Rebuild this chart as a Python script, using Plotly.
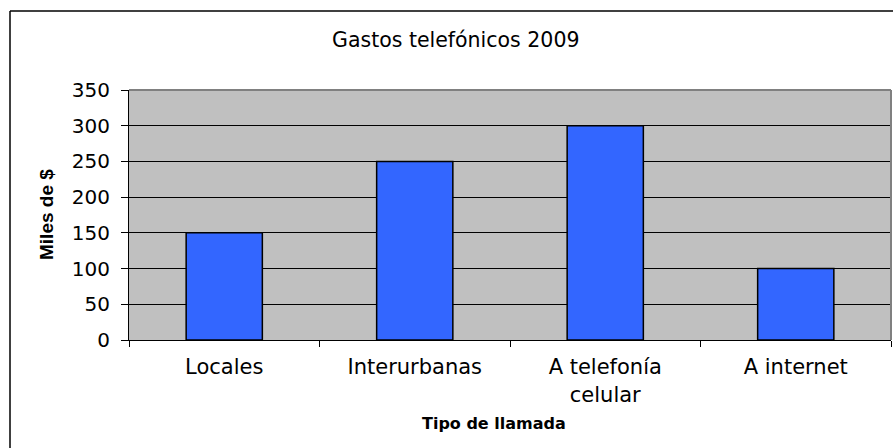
import plotly.graph_objects as go

categories = ["Locales", "Interurbanas", "A telefonía<br>celular", "A internet"]
values = [150, 250, 300, 100]
y_ticks = [0, 50, 100, 150, 200, 250, 300, 350]

W_FIG, H_FIG = 893, 448
# plot area in window pixels
L, R, T, B = 129, 891, 90, 340
PW, PH = R - L, B - T


def px(x):
    return (x - L) / PW


def py(y):
    return (B - y) / PH


FONT = "DejaVu Sans"

fig = go.Figure(
    go.Bar(
        x=categories,
        y=values,
        width=0.4,
        marker=dict(color="#3366FF", line=dict(color="#000000", width=1.5)),
    )
)

fig.update_layout(
    width=W_FIG,
    height=H_FIG,
    margin=dict(l=L, r=W_FIG - R, t=T, b=H_FIG - B, pad=0),
    paper_bgcolor="white",
    plot_bgcolor="#C0C0C0",
    showlegend=False,
    font=dict(family=FONT, size=20, color="black"),
)

fig.update_xaxes(
    showgrid=False,
    showline=True,
    linecolor="black",
    linewidth=1,
    ticks="outside",
    tickson="boundaries",
    ticklen=6,
    tickcolor="black",
    tickfont=dict(family=FONT, size=21),
    ticklabelstandoff=8,
    zeroline=False,
)

fig.update_yaxes(
    range=[0, 350],
    tickvals=y_ticks,
    showgrid=True,
    gridcolor="black",
    gridwidth=1,
    showline=True,
    linecolor="black",
    linewidth=1,
    ticks="outside",
    ticklen=7,
    tickcolor="black",
    tickfont=dict(family=FONT, size=20),
    ticklabelstandoff=7,
    zeroline=False,
)

# plot-area border (top/right gray)
fig.add_shape(type="line", xref="paper", yref="paper", x0=0, x1=1, y0=1, y1=1,
              line=dict(color="#808080", width=2))
fig.add_shape(type="line", xref="paper", yref="paper", x0=1, x1=1, y0=0, y1=1,
              line=dict(color="#808080", width=2))

# outer chart border (left and top visible)
fig.add_shape(type="line", xref="paper", yref="paper", x0=px(10), x1=px(10),
              y0=py(11), y1=py(470), line=dict(color="black", width=1.5))
fig.add_shape(type="line", xref="paper", yref="paper", x0=px(10), x1=px(910),
              y0=py(11), y1=py(11), line=dict(color="black", width=1.5))

fig.add_annotation(text="Gastos telefónicos 2009", xref="paper", yref="paper",
                   x=px(456), y=py(40), showarrow=False, xanchor="center", yanchor="middle",
                   font=dict(family=FONT, size=20.5, color="black"))
fig.add_annotation(text="<b>Tipo de llamada</b>", xref="paper", yref="paper",
                   x=px(494), y=py(423), showarrow=False, xanchor="center", yanchor="middle",
                   font=dict(family=FONT, size=16, color="black"))
fig.add_annotation(text="<b>Miles de $</b>", xref="paper", yref="paper",
                   x=px(46), y=py(215), showarrow=False, textangle=-90,
                   xanchor="center", yanchor="middle",
                   font=dict(family="Liberation Sans", size=19, color="black"))

fig.write_html(
    "out.html",
    config={"displayModeBar": False},
    post_script="document.body.style.margin='0';document.body.style.overflow='hidden';",
)
